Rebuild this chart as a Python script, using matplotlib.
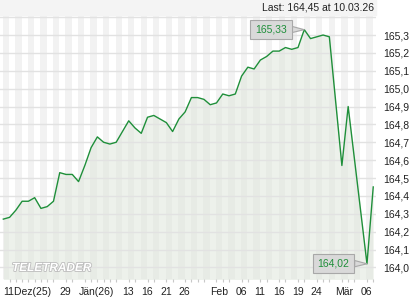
import matplotlib
matplotlib.use('Agg')
import matplotlib.pyplot as plt
import matplotlib.patheffects as pe

plt.rcParams['font.family'] = ['Liberation Sans', 'DejaVu Sans']

# trading day index (Dec 11 2025 = 0 ... Mar 10 2026 = 59), some days have no quote
day_idx = list(range(0, 53)) + [54, 55, 58, 59]
prices = [164.27, 164.28, 164.32, 164.37, 164.37, 164.39, 164.33, 164.34, 164.37, 164.53,
          164.52, 164.52, 164.48, 164.57, 164.67, 164.73, 164.70, 164.69, 164.70, 164.76,
          164.82, 164.78, 164.75, 164.84, 164.85, 164.83, 164.81, 164.76, 164.83, 164.87,
          164.95, 164.95, 164.94, 164.91, 164.92, 164.97, 164.96, 164.97, 165.07, 165.12,
          165.11, 165.16, 165.18, 165.21, 165.21, 165.23, 165.22, 165.23, 165.33, 165.28,
          165.29, 165.30, 165.29, 164.57, 164.90, 164.02, 164.45]

x_ticks = [0, 9, 12, 19, 22, 25, 28, 33, 37, 40, 43, 46, 49, 53, 57]
x_labels = ['11Dez(25)', '29', 'Jän(26)', '13', '16', '21', '26',
            'Feb', '06', '11', '16', '19', '24', 'Mär', '06']
y_ticks = [164.0, 164.1, 164.2, 164.3, 164.4, 164.5, 164.6,
           164.7, 164.8, 164.9, 165.0, 165.1, 165.2, 165.3]
n_days = 60

green = '#1f8f3a'

fig = plt.figure(figsize=(4.2, 3.0), dpi=100)
# header band
fig.patches.append(plt.Rectangle((0, 0.95), 376 / 420, 0.05, transform=fig.transFigure,
                                 color='#f4f4f4', zorder=0))
fig.text(374 / 420, 1 - 7.5 / 300, 'Last: 164,45 at 10.03.26', ha='right', va='center',
         fontsize=7.5, color='#222222')

ax = fig.add_axes([0, 21 / 300, 376 / 420, 264 / 300])
ax.set_xlim(-0.53, 59.44)
ax.set_ylim(163.935, 165.412)

# alternating day stripes
for i in range(0, n_days + 1, 2):
    ax.axvspan(i - 0.1, i + 0.9, color='#f2f2f2', lw=0, zorder=0)

for v in y_ticks + [165.4]:
    ax.axhline(v, color='#e2e2e2', lw=1, zorder=1.5)

ax.fill_between(day_idx, prices, 163.9, color='#dde5d9', alpha=0.5, lw=0, zorder=1)
ax.plot(day_idx, prices, color=green, lw=1.0, zorder=3)

for s in ax.spines.values():
    s.set_visible(False)

ax.yaxis.tick_right()
ax.set_yticks(y_ticks)
ax.set_yticklabels([f'{v:.1f}'.replace('.', ',') for v in y_ticks], fontsize=7.5, color='#222222')
ax.tick_params(axis='y', length=0, pad=5)

ax.set_xticks(range(n_days), minor=True)
ax.set_xticks(x_ticks)
ax.set_xticklabels(x_labels, fontsize=7.5, color='#222222', ha='left')
ax.tick_params(axis='x', which='major', length=0, pad=5.5)
ax.tick_params(axis='x', which='minor', length=2.5, color='#c8c8c8', width=0.8)

# high / low labels
hi = prices.index(max(prices))
lo = prices.index(min(prices))
for i in (hi, lo):
    txt = f'{prices[i]:.2f}'.replace('.', ',')
    ax.annotate(txt, (day_idx[i], prices[i]), xytext=(-24, 0.3), textcoords='offset points',
                ha='center', va='center', fontsize=7.5, color=green, zorder=5,
                bbox=dict(boxstyle='square,pad=0.45', fc='#d9d9d9', ec='#a8a8a8', lw=0.8),
                arrowprops=dict(arrowstyle='wedge,tail_width=0.6', fc='#d9d9d9', ec='#a8a8a8',
                                lw=0.8, shrinkA=0, shrinkB=0))

# watermark
ax.text(12 / 376, 8 / 264, 'TELETRADER', transform=ax.transAxes, fontsize=8.5,
        fontweight='bold', fontstyle='italic', color='white', zorder=4,
        path_effects=[pe.withStroke(linewidth=1.2, foreground='#bdbdbd')])

fig.savefig('out.png', dpi=100)
